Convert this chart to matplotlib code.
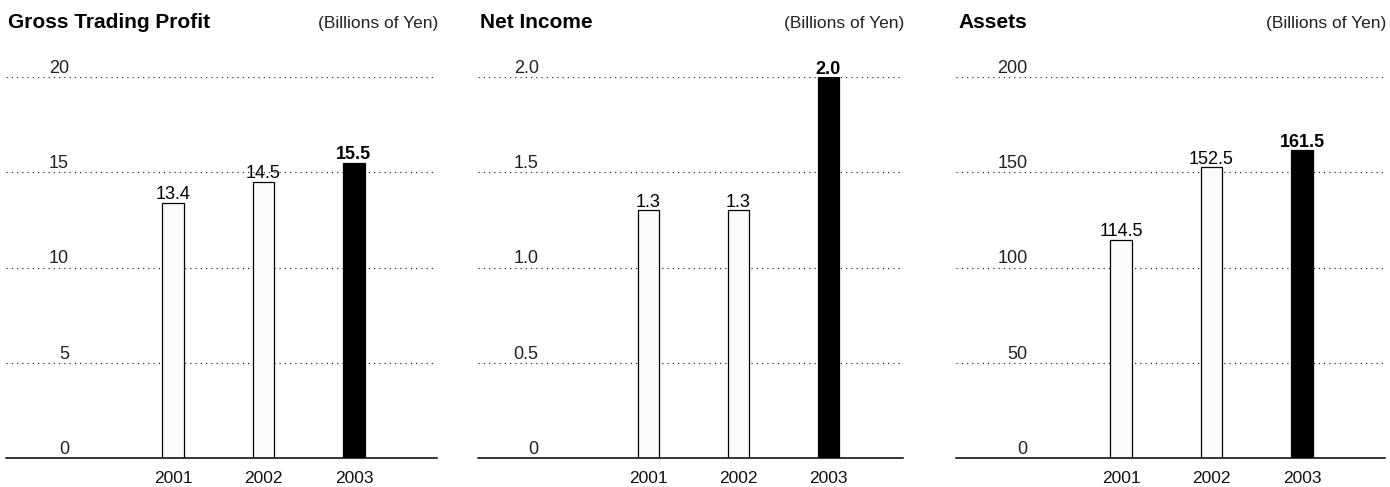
import matplotlib.pyplot as plt

plt.rcParams['font.family'] = ['Liberation Sans', 'DejaVu Sans']

years = ['2001', '2002', '2003']
gross_profit = [13.4, 14.5, 15.5]
net_income = [1.3, 1.3, 2.0]
assets = [114.5, 152.5, 161.5]

gross_labels = ['13.4', '14.5', '15.5']
net_labels = ['1.3', '1.3', '2.0']
asset_labels = ['114.5', '152.5', '161.5']

gross_ticks = [0, 5, 10, 15, 20]
net_ticks = [0, 0.5, 1.0, 1.5, 2.0]
asset_ticks = [0, 50, 100, 150, 200]
gross_ticklabels = ['0', '5', '10', '15', '20']
net_ticklabels = ['0', '0.5', '1.0', '1.5', '2.0']
asset_ticklabels = ['0', '50', '100', '150', '200']

titles = ['Gross Trading Profit', 'Net Income', 'Assets']
unit = '(Billions of Yen)'

W, H = 1390, 487
fig = plt.figure(figsize=(W / 100, H / 100), dpi=100)

panels = [
    (gross_profit, gross_labels, gross_ticks, gross_ticklabels, 20),
    (net_income, net_labels, net_ticks, net_ticklabels, 2.0),
    (assets, asset_labels, asset_ticks, asset_ticklabels, 200),
]
lefts = [6, 478, 956]
widths = [431, 425, 429]
tick_x = [-1.15, -1.22, -1.03]
xlims = [(-1.845, 2.918), (-1.894, 2.828), (-1.823, 2.917)]
bottom_px, top_px = 458, 77

for i, (vals, labs, ticks, ticklabs, ymax) in enumerate(panels):
    ax = fig.add_axes([lefts[i] / W, (H - bottom_px) / H, widths[i] / W, (bottom_px - top_px) / H])
    ax.set_xlim(*xlims[i])
    ax.set_ylim(0, ymax)
    for s in ax.spines.values():
        s.set_visible(False)
    ax.set_xticks([])
    ax.set_yticks([])

    # dotted gridlines, solid baseline
    for t in ticks[1:]:
        ax.axhline(t, color='#333333', lw=0.9, ls=(0, (1, 3.2)), zorder=0)
    ax.axhline(0, color='black', lw=1.1, zorder=3, clip_on=False)

    for t, tl in zip(ticks, ticklabs):
        ax.annotate(tl, (tick_x[i], t), xytext=(0, 3), textcoords='offset points',
                    ha='right', va='baseline', fontsize=13, color='#222222')

    x = range(len(vals))
    colors = ['#fcfcfc', '#fcfcfc', 'black']
    ax.bar(x, vals, width=0.235, color=colors, edgecolor='black', linewidth=0.9, zorder=2)

    for j, (v, lab) in enumerate(zip(vals, labs)):
        ax.annotate(lab, (j, v), xytext=(0, 2.5), textcoords='offset points',
                    ha='center', va='baseline', fontsize=13, color='black',
                    fontweight='bold' if j == 2 else 'normal', annotation_clip=False)
        ax.annotate(years[j], (j, 0), xytext=(0, -18.2), textcoords='offset points',
                    ha='center', va='baseline', fontsize=12.5, color='#111111',
                    annotation_clip=False)

    fig.text((lefts[i] + 2) / W, (H - 28) / H, titles[i], fontsize=15,
             fontweight='bold', ha='left', va='baseline')
    fig.text((lefts[i] + widths[i] + 1) / W, (H - 28) / H, unit, fontsize=12.5,
             ha='right', va='baseline', color='#222222')

fig.savefig('out.png', dpi=100)
